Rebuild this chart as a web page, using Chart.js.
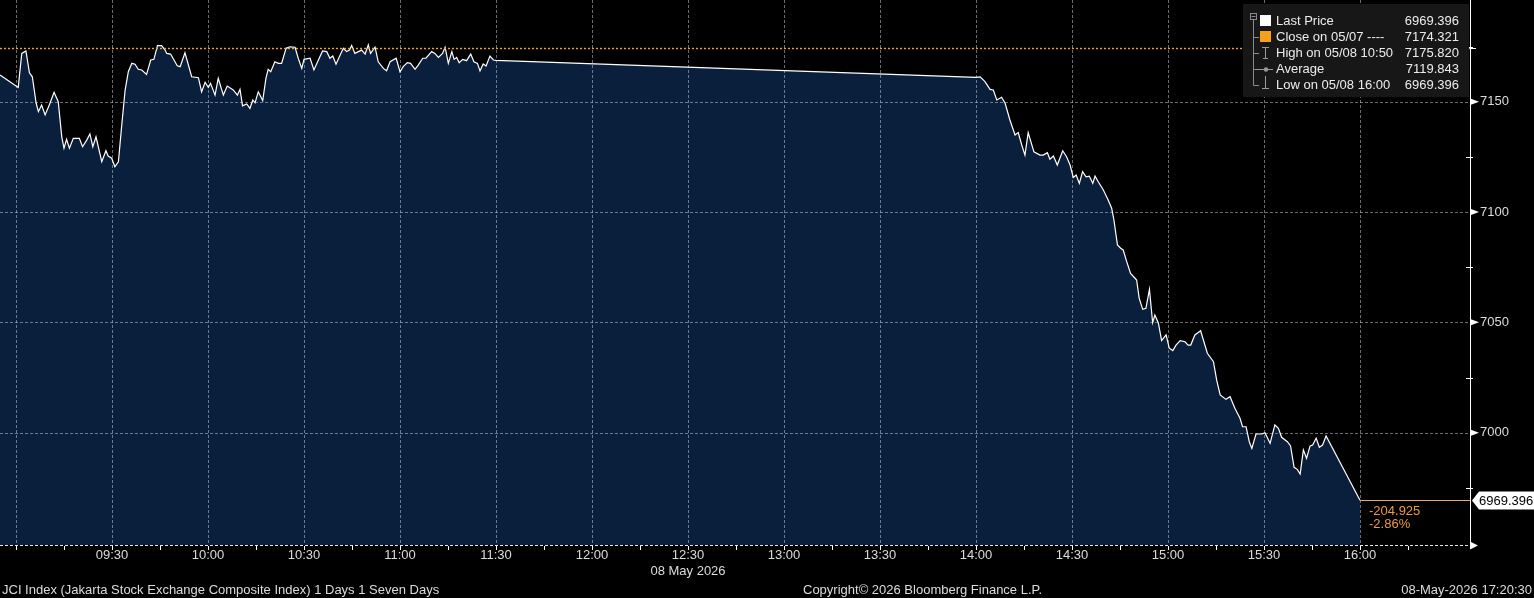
<!DOCTYPE html>
<html><head><meta charset="utf-8">
<script src="https://cdn.jsdelivr.net/npm/chart.js@4/dist/chart.umd.min.js"></script>
<style>html,body{margin:0;padding:0;background:#000;overflow:hidden}canvas{display:block}</style>
</head><body>
<canvas id="c" width="1534" height="598"></canvas>
<script>
// ---- data (time = minutes after midnight, 08 May 2026) ----
const timeMin = [
535.0,540.7,541.8,543.1,544.2,545.1,546.3,547.0,548.0,549.1,
550.4,551.9,553.2,554.3,555.0,555.8,556.7,557.9,559.8,560.8,
562.1,563.1,564.0,565.0,566.8,568.1,568.8,569.9,570.9,572.0,
573.0,574.1,575.1,576.2,577.2,578.2,579.3,580.8,582.1,583.1,
584.2,585.5,586.6,587.1,588.3,590.4,591.3,592.8,594.9,597.0,
598.0,599.1,600.1,600.8,602.2,603.2,604.8,606.0,607.9,609.2,
610.0,610.8,612.1,613.1,614.0,614.7,615.7,617.1,618.1,618.8,
619.6,620.9,622.0,623.0,624.4,625.6,627.2,628.2,629.3,630.0,
631.9,633.1,634.5,635.8,637.1,638.1,639.0,640.0,641.3,642.3,
643.3,644.2,644.9,645.9,647.0,648.0,649.1,650.1,650.8,652.2,
653.2,654.8,655.8,656.9,658.8,660.0,661.0,662.3,663.3,664.7,
665.7,667.1,668.1,669.9,670.9,672.0,673.3,674.1,675.1,676.2,
676.9,677.7,678.5,679.6,680.8,682.1,683.1,684.2,685.0,686.0,
686.9,688.1,689.2,690.0,
840.0,841.3,842.8,844.4,845.4,846.5,848.0,849.1,850.6,852.2,
853.2,854.3,855.3,856.3,858.1,860.0,861.0,862.3,863.1,864.2,
865.4,867.1,868.3,869.4,870.4,871.3,872.3,873.3,874.4,875.4,
876.5,877.2,878.2,879.8,881.3,882.4,883.1,884.2,885.2,886.0,
887.1,888.3,889.7,890.2,891.0,892.1,893.1,894.2,895.2,895.9,
897.0,898.0,899.4,900.4,901.5,902.5,903.8,905.3,906.3,907.1,
908.4,910.2,912.3,914.2,915.2,916.3,918.1,919.4,920.9,922.5,
923.3,924.4,925.4,926.2,927.5,929.3,930.3,931.9,933.4,934.5,
935.5,937.3,938.3,939.4,940.4,941.3,942.3,943.3,944.4,945.2,
946.3,947.3,948.3,949.4,960.0
];
const price = [
7162.1,7156.5,7171.9,7173.0,7163.1,7161.3,7149.3,7145.5,7148.5,7144.0,
7148.5,7154.3,7150.0,7134.1,7128.9,7133.0,7128.9,7133.4,7133.4,7129.6,
7132.6,7135.4,7129.6,7134.1,7122.8,7127.8,7125.4,7124.4,7120.5,7122.8,
7138.7,7155.3,7163.6,7167.4,7167.0,7164.7,7164.4,7162.4,7168.9,7169.2,
7175.4,7175.4,7173.4,7171.9,7171.6,7166.3,7165.9,7172.2,7161.3,7160.9,
7154.5,7158.8,7156.5,7158.3,7153.0,7160.6,7153.0,7157.1,7155.3,7153.0,
7155.6,7148.1,7149.0,7147.0,7150.8,7149.5,7154.5,7150.5,7160.6,7164.7,
7163.6,7168.1,7167.4,7167.4,7174.2,7174.9,7174.7,7169.7,7165.1,7169.2,
7169.7,7164.4,7168.9,7173.0,7172.7,7169.7,7170.7,7167.0,7171.2,7174.2,
7172.7,7173.4,7175.5,7171.9,7172.7,7173.4,7171.6,7175.8,7171.9,7174.7,
7168.1,7165.1,7164.0,7168.1,7169.7,7163.6,7165.9,7167.7,7167.4,7164.7,
7166.6,7169.7,7169.7,7172.7,7171.9,7170.1,7171.9,7174.7,7167.4,7172.7,
7169.2,7170.1,7167.7,7169.2,7168.6,7171.6,7168.1,7167.4,7164.0,7167.1,
7166.2,7170.7,7168.9,7168.7,
7161.0,7161.3,7159.1,7155.6,7155.3,7150.8,7152.0,7149.3,7141.7,7134.9,
7136.0,7130.4,7125.8,7136.0,7127.3,7125.8,7125.8,7126.9,7123.9,7125.4,
7121.3,7127.8,7125.1,7121.3,7115.7,7116.8,7113.0,7118.3,7116.0,7116.3,
7113.0,7116.3,7113.7,7110.0,7105.5,7101.7,7096.4,7085.1,7083.6,7082.8,
7077.5,7072.2,7070.0,7069.2,7060.9,7055.9,7056.4,7065.0,7049.9,7053.3,
7049.6,7041.7,7044.3,7038.3,7037.2,7039.7,7041.7,7041.2,7039.7,7039.7,
7044.3,7046.2,7036.0,7032.2,7023.9,7017.1,7015.1,7016.3,7011.1,7006.5,
7002.7,7002.7,6995.9,6992.9,6999.4,6999.4,7000.0,6995.2,7003.5,7002.0,
6997.9,6995.9,6994.0,6984.3,6983.4,6981.3,6992.2,6988.4,6994.0,6994.4,
6997.5,6993.4,6994.4,6998.5,6969.396
];
const closePrev = 7174.321;
const lastPrice = 6969.396;
const lastTime = 960;
const netChange = '-204.925';
const pctChange = '-2.86%';

const xTickTimes = [540,555,570,585,600,615,630,645,660,675,690,705,720,735,750,765,780,795,810,825,840,855,870,885,900,915,930,945,960,975];
const xGridTimes = [540,570,600,630,660,690,720,750,780,810,840,870,900,930,960];
const xLabelTimes = [570,600,630,660,690,720,750,780,810,840,870,900,930,960];
const xLabelText = ['09:30','10:00','10:30','11:00','11:30','12:00','12:30','13:00','13:30','14:00','14:30','15:00','15:30','16:00'];
const dateLabelTime = 750;
const dateLabel = '08 May 2026';
const yTicks = [7000,7050,7100,7150];
const yMinorTicks = [6975,7025,7075,7125,7175];

const legendLabels = ['Last Price','Close on 05/07 ----','High on 05/08 10:50','Average','Low on 05/08 16:00'];
const legendValues = ['6969.396','7174.321','7175.820','7119.843','6969.396'];
const footerLeft = 'JCI Index (Jakarta Stock Exchange Composite Index) 1 Days 1 Seven Days';
const footerMid = 'Copyright\u00A9 2026 Bloomberg Finance L.P.';
const footerRight = '08-May-2026 17:20:30';

// ---- style ----
const FONT = '"Liberation Sans", Arial, sans-serif';
const TXT = '#dcdcdc';
const ORANGE = '#f2a12e';

const bbg = {
  id: 'bbg',
  beforeDatasetsDraw(chart) {
    const {ctx, chartArea: a, scales: {x, y}} = chart;
    ctx.save();
    ctx.strokeStyle = 'rgba(190,198,210,0.55)';
    ctx.lineWidth = 1;
    ctx.setLineDash([3, 2]);
    xGridTimes.forEach(t => {
      const px = Math.round(x.getPixelForValue(t)) + 0.5;
      ctx.beginPath(); ctx.moveTo(px, a.top); ctx.lineTo(px, a.bottom); ctx.stroke();
    });
    yTicks.forEach(v => {
      const py = Math.round(y.getPixelForValue(v)) + 0.5;
      ctx.beginPath(); ctx.moveTo(a.left, py); ctx.lineTo(a.right, py); ctx.stroke();
    });
    ctx.restore();
  },
  afterDatasetsDraw(chart) {
    const {ctx, chartArea: a, scales: {x, y}} = chart;
    ctx.save();
    const cy = Math.round(y.getPixelForValue(closePrev)) + 0.5;
    ctx.strokeStyle = ORANGE; ctx.lineWidth = 1.4; ctx.setLineDash([2, 2]);
    ctx.beginPath(); ctx.moveTo(a.left, cy); ctx.lineTo(a.right, cy); ctx.stroke();
    ctx.setLineDash([]);
    const ly = Math.round(y.getPixelForValue(lastPrice)) + 0.5;
    const lx = x.getPixelForValue(lastTime);
    ctx.strokeStyle = '#e6a877'; ctx.lineWidth = 1;
    ctx.beginPath(); ctx.moveTo(lx, ly); ctx.lineTo(a.right, ly); ctx.stroke();
    const by = a.bottom + 0.5;
    ctx.strokeStyle = '#e8e8e8'; ctx.setLineDash([3, 2]);
    ctx.beginPath(); ctx.moveTo(a.left, by); ctx.lineTo(a.right, by); ctx.stroke();
    ctx.setLineDash([]);
    ctx.fillStyle = '#ffffff';
    ctx.beginPath(); ctx.moveTo(a.right, by - 4); ctx.lineTo(a.right + 8, by); ctx.lineTo(a.right, by + 4); ctx.closePath(); ctx.fill();
    ctx.strokeStyle = '#ffffff';
    xTickTimes.forEach(t => {
      const px = Math.round(x.getPixelForValue(t)) + 0.5;
      ctx.beginPath(); ctx.moveTo(px, a.bottom + 1); ctx.lineTo(px, a.bottom + 5); ctx.stroke();
    });
    yTicks.forEach(v => {
      const py = y.getPixelForValue(v);
      ctx.beginPath(); ctx.moveTo(a.right + 1, py - 3); ctx.lineTo(a.right + 9, py); ctx.lineTo(a.right + 1, py + 3); ctx.closePath(); ctx.fill();
    });
    yMinorTicks.forEach(v => {
      const py = Math.round(y.getPixelForValue(v)) + 0.5;
      ctx.beginPath(); ctx.moveTo(a.right - 4, py); ctx.lineTo(a.right + 3, py); ctx.stroke();
    });
    ctx.beginPath(); ctx.moveTo(a.right, cy); ctx.lineTo(a.right + 6, cy); ctx.stroke();
    ctx.restore();
  },
  afterDraw(chart) {
    const {ctx, chartArea: a, scales: {x, y}} = chart;
    ctx.save();
    const lx0 = 1243, ly0 = 4, lw = 226, lh = 93;
    ctx.fillStyle = '#171717';
    ctx.fillRect(lx0, ly0, lw, lh);
    const rowY = [21, 37, 53, 69, 85];
    ctx.strokeStyle = '#8a8a8a'; ctx.lineWidth = 1;
    ctx.strokeRect(1250.5, 13.5, 6, 6);
    ctx.beginPath(); ctx.moveTo(1251.5, 16.5); ctx.lineTo(1255.5, 16.5); ctx.stroke();
    ctx.beginPath(); ctx.moveTo(1253.5, 20); ctx.lineTo(1253.5, rowY[4] + 0.5); ctx.stroke();
    rowY.slice(1).forEach(ry => { ctx.beginPath(); ctx.moveTo(1253.5, ry + 0.5); ctx.lineTo(1259, ry + 0.5); ctx.stroke(); });
    ctx.fillStyle = '#ffffff'; ctx.fillRect(1260, 15, 11, 11);
    ctx.fillStyle = '#f7a11a'; ctx.fillRect(1260, 31, 11, 11);
    ctx.strokeStyle = '#9a9a9a';
    ctx.beginPath(); ctx.moveTo(1262, 47.5); ctx.lineTo(1269, 47.5); ctx.moveTo(1265.5, 47.5); ctx.lineTo(1265.5, 58); ctx.moveTo(1263, 58.5); ctx.lineTo(1268, 58.5); ctx.stroke();
    ctx.beginPath(); ctx.moveTo(1256, 69.5); ctx.lineTo(1273, 69.5); ctx.stroke();
    ctx.fillStyle = '#9a9a9a'; ctx.beginPath(); ctx.arc(1266, 69.5, 2.2, 0, Math.PI * 2); ctx.fill();
    ctx.beginPath(); ctx.moveTo(1265.5, 76); ctx.lineTo(1265.5, 88.5); ctx.moveTo(1262, 88.5); ctx.lineTo(1269, 88.5); ctx.stroke();
    ctx.font = '13px ' + FONT;
    ctx.fillStyle = '#ececec';
    ctx.textBaseline = 'middle';
    legendLabels.forEach((t, i) => { ctx.textAlign = 'left'; ctx.fillText(t, 1276, rowY[i]); });
    legendValues.forEach((t, i) => { ctx.textAlign = 'right'; ctx.fillText(t, 1459, rowY[i]); });
    const py = Math.round(y.getPixelForValue(lastPrice)) + 0.5;
    ctx.fillStyle = '#ffffff';
    ctx.beginPath();
    ctx.moveTo(a.right + 2, py); ctx.lineTo(a.right + 9, py - 9); ctx.lineTo(1534, py - 9);
    ctx.lineTo(1534, py + 9); ctx.lineTo(a.right + 9, py + 9); ctx.closePath(); ctx.fill();
    ctx.fillStyle = '#000000'; ctx.textAlign = 'left';
    ctx.fillText(lastPrice.toFixed(3), a.right + 9, py + 1);
    const cx = x.getPixelForValue(lastTime) + 9;
    ctx.fillStyle = '#ec9a3e';
    ctx.fillText(netChange, cx, py + 11);
    ctx.fillText(pctChange, cx, py + 24);
    ctx.fillStyle = TXT;
    ctx.textAlign = 'left'; ctx.fillText(footerLeft, 2, 590);
    ctx.fillText(footerMid, 803, 590);
    ctx.textAlign = 'right'; ctx.fillText(footerRight, 1532, 590);
    ctx.restore();
  }
};

new Chart(document.getElementById('c'), {
  type: 'line',
  data: {
    datasets: [{
      data: timeMin.map((t, i) => ({x: t, y: price[i]})),
      borderColor: '#ffffff',
      borderWidth: 1.2,
      backgroundColor: '#0a1f3b',
      fill: 'start',
      pointRadius: 0,
      tension: 0
    }]
  },
  options: {
    responsive: false,
    devicePixelRatio: 1,
    animation: false,
    layout: {padding: 0, autoPadding: false},
    plugins: {
      legend: {display: false},
      tooltip: {enabled: false},
      filler: {drawTime: 'beforeDatasetsDraw'}
    },
    scales: {
      x: {
        type: 'linear',
        min: 535,
        max: 994.375,
        grid: {display: false, drawTicks: false},
        border: {display: false},
        afterBuildTicks: s => { s.ticks = xTickTimes.map(v => ({value: v})); },
        afterFit: s => { s.height = 53; s.paddingLeft = 0; s.paddingRight = 0; s.paddingTop = 0; s.paddingBottom = 0; },
        ticks: {
          autoSkip: false,
          maxRotation: 0,
          padding: 3,
          color: TXT,
          font: {family: FONT, size: 13},
          callback: v => {
            const i = xLabelTimes.indexOf(v);
            if (i < 0) return '';
            return v === dateLabelTime ? [xLabelText[i], dateLabel] : xLabelText[i];
          }
        }
      },
      y: {
        type: 'linear',
        position: 'right',
        min: 6949.1,
        max: 7196.1,
        grid: {display: false, drawTicks: false},
        border: {display: true, color: '#ffffff', width: 1},
        afterBuildTicks: s => { s.ticks = yTicks.map(v => ({value: v})); },
        afterFit: s => { s.width = 64; s.paddingLeft = 0; s.paddingRight = 0; s.paddingTop = 0; s.paddingBottom = 0; },
        ticks: {
          padding: 10,
          color: TXT,
          font: {family: FONT, size: 13},
          callback: v => String(v)
        }
      }
    }
  },
  plugins: [bbg]
});
</script>
</body></html>
